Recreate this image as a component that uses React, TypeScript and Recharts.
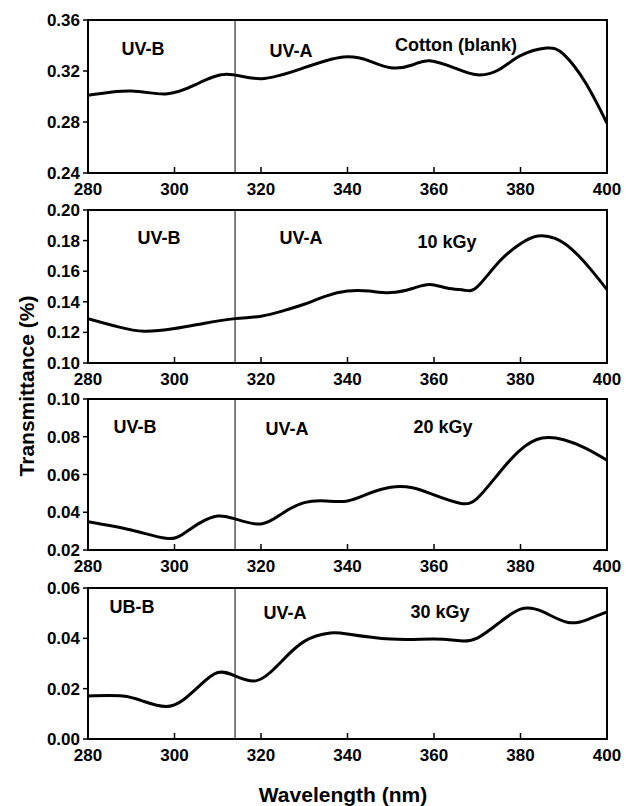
import React from 'react';
import { LineChart, Line, XAxis, YAxis, ReferenceLine, ReferenceArea } from 'recharts';

// Wavelength ticks (nm)
const xTicks = [280, 300, 320, 340, 360, 380, 400];
const uvBoundary = 314;

// Panel 1: Cotton (blank)
const wl1 = [280, 290, 298, 305, 312, 320, 330, 339, 345, 350, 355, 359, 365, 370, 375, 380, 386, 390, 395, 400];
const t1 = [0.301, 0.3043, 0.302, 0.3095, 0.3174, 0.314, 0.3226, 0.331, 0.328, 0.3226, 0.3247, 0.328, 0.322, 0.317, 0.321, 0.332, 0.338, 0.333, 0.311, 0.279];
const yTicks1 = [0.24, 0.28, 0.32, 0.36];

// Panel 2: 10 kGy
const wl2 = [280, 287, 293, 300, 307, 314, 320, 325, 330, 335, 340, 345, 350, 355, 359, 363, 367, 370, 375, 380, 384, 388, 392, 396, 400];
const t2 = [0.129, 0.1236, 0.1207, 0.1225, 0.126, 0.129, 0.1306, 0.134, 0.1384, 0.1437, 0.147, 0.147, 0.146, 0.1487, 0.1513, 0.149, 0.1476, 0.1498, 0.166, 0.178, 0.183, 0.1814, 0.174, 0.162, 0.148];
const yTicks2 = [0.1, 0.12, 0.14, 0.16, 0.18, 0.2];

// Panel 3: 20 kGy
const wl3 = [280, 290, 298, 302, 306, 310, 314, 320, 325, 330, 335, 340, 345, 350, 355, 360, 366, 370, 375, 380, 385, 390, 395, 400];
const t3 = [0.035, 0.0306, 0.0262, 0.0285, 0.0345, 0.038, 0.0365, 0.0338, 0.0395, 0.0451, 0.046, 0.046, 0.05, 0.0533, 0.053, 0.0492, 0.0448, 0.0474, 0.0607, 0.0731, 0.0793, 0.0784, 0.074, 0.0676];
const yTicks3 = [0.02, 0.04, 0.06, 0.08, 0.1];

// Panel 4: 30 kGy
const wl4 = [280, 288, 293, 298, 302, 306, 310, 314, 319, 324, 330, 336, 340, 350, 360, 366, 370, 375, 380, 385, 391, 396, 400];
const t4 = [0.0171, 0.0171, 0.0149, 0.0129, 0.0155, 0.0215, 0.0264, 0.0251, 0.0232, 0.0295, 0.0388, 0.0421, 0.0417, 0.0397, 0.0397, 0.039, 0.0401, 0.0461, 0.0516, 0.0507, 0.0463, 0.0478, 0.0505];
const yTicks4 = [0, 0.02, 0.04, 0.06];

const FONT = '"Liberation Sans", Arial, sans-serif';

type Ann = { text: string; x: number; y: number };

const panels = [
  { wl: wl1, t: t1, yTicks: yTicks1, top: 10, height: 193,
    notes: [{ text: 'UV-B', x: 143, y: 49 }, { text: 'UV-A', x: 291, y: 51 }, { text: 'Cotton (blank)', x: 456, y: 45 }] as Ann[] },
  { wl: wl2, t: t2, yTicks: yTicks2, top: 200, height: 193,
    notes: [{ text: 'UV-B', x: 159, y: 238 }, { text: 'UV-A', x: 301, y: 238 }, { text: '10 kGy', x: 447, y: 242 }] as Ann[] },
  { wl: wl3, t: t3, yTicks: yTicks3, top: 389, height: 191,
    notes: [{ text: 'UV-B', x: 135, y: 427 }, { text: 'UV-A', x: 287, y: 429 }, { text: '20 kGy', x: 443, y: 427 }] as Ann[] },
  { wl: wl4, t: t4, yTicks: yTicks4, top: 578, height: 191,
    notes: [{ text: 'UB-B', x: 132, y: 607 }, { text: 'UV-A', x: 285, y: 613 }, { text: '30 kGy', x: 440, y: 612 }] as Ann[] },
];

const tickStyle = { fontFamily: FONT, fontWeight: 700, fontSize: 17, fill: '#000' };

function Panel({ wl, t, yTicks, top, height }: any) {
  const data = wl.map((w: number, i: number) => ({ wl: w, t: t[i] }));
  const yMin = yTicks[0];
  const yMax = yTicks[yTicks.length - 1];
  return (
    <div style={{ position: 'absolute', left: 0, top }}>
      <LineChart width={633} height={height} data={data} margin={{ top: 10, right: 26, left: 0, bottom: 0 }}>
        <XAxis
          dataKey="wl"
          type="number"
          domain={[280, 400]}
          ticks={xTicks}
          tick={tickStyle}
          tickSize={-6}
          tickMargin={16}
          tickLine={{ stroke: '#000', strokeWidth: 1.5 }}
          axisLine={{ stroke: '#000', strokeWidth: 2 }}
          height={30}
          interval={0}
          allowDataOverflow
        />
        <YAxis
          type="number"
          domain={[yMin, yMax]}
          ticks={yTicks}
          tick={tickStyle}
          tickFormatter={(v: number) => v.toFixed(2)}
          tickSize={5}
          tickMargin={3}
          tickLine={{ stroke: '#000', strokeWidth: 1.5 }}
          axisLine={{ stroke: '#000', strokeWidth: 2 }}
          width={88}
          interval={0}
          allowDataOverflow
        />
        <ReferenceArea x1={280} x2={400} y1={yMin} y2={yMax} fill="none" stroke="#000" strokeWidth={2} ifOverflow="visible" />
        <ReferenceLine x={uvBoundary} stroke="#000" strokeWidth={1} />
        <Line type="natural" dataKey="t" stroke="#000" strokeWidth={3} dot={false} isAnimationActive={false} />
      </LineChart>
    </div>
  );
}

export default function App() {
  return (
    <div style={{ position: 'absolute', left: 0, top: 0, width: 633, height: 806, background: '#fff', fontFamily: FONT }}>
      {panels.map((p, i) => (
        <Panel key={i} {...p} />
      ))}
      {panels.flatMap((p, i) =>
        p.notes.map((n, j) => (
          <div
            key={`${i}-${j}`}
            style={{
              position: 'absolute', left: n.x, top: n.y, transform: 'translate(-50%, -50%)',
              fontWeight: 700, fontSize: 18, whiteSpace: 'nowrap', color: '#000', lineHeight: 1,
            }}
          >
            {n.text}
          </div>
        ))
      )}
      <div
        style={{
          position: 'absolute', left: 26, top: 386, transform: 'translate(-50%, -50%) rotate(-90deg)',
          fontWeight: 700, fontSize: 21, whiteSpace: 'nowrap', color: '#000', lineHeight: 1,
        }}
      >
        Transmittance (%)
      </div>
      <div
        style={{
          position: 'absolute', left: 343, top: 794, transform: 'translate(-50%, -50%)',
          fontWeight: 700, fontSize: 21, whiteSpace: 'nowrap', color: '#000', lineHeight: 1,
        }}
      >
        Wavelength (nm)
      </div>
    </div>
  );
}
